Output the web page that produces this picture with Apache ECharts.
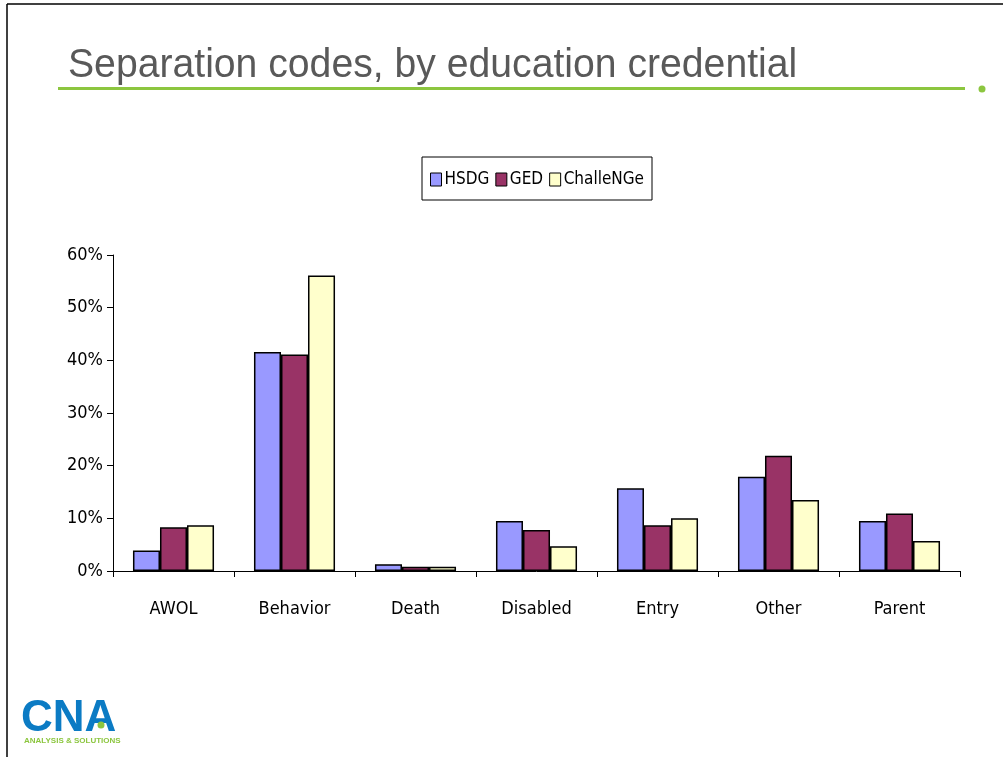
<!DOCTYPE html>
<html>
<head>
<meta charset="utf-8">
<script src="https://cdn.jsdelivr.net/npm/echarts@6/dist/echarts.min.js"></script>
<style>
  html, body { margin: 0; padding: 0; background: #fff; }
  #chart { width: 1003px; height: 757px; }
</style>
</head>
<body>
<div id="chart"></div>
<script>
const categories = ["AWOL", "Behavior", "Death", "Disabled", "Entry", "Other", "Parent"];
const hsdg = [3.9, 41.6, 1.3, 9.5, 15.7, 17.9, 9.5];
const ged = [8.3, 41.1, 0.8, 7.8, 8.7, 21.9, 10.9];
const challenge = [8.7, 56.1, 0.8, 4.7, 10.0, 13.5, 5.7];
const yTicks = [0, 10, 20, 30, 40, 50, 60];

const narrow = "'DejaVu Sans Condensed', 'Liberation Sans', sans-serif";

const chart = echarts.init(document.getElementById("chart"));

const barStyle = (color) => ({
  color: color,
  borderColor: "#000",
  borderWidth: 1.5,
});

chart.setOption({
  animation: false,
  backgroundColor: "#fff",
  legend: {
    data: ["HSDG", "GED", "ChalleNGe"],
    left: 422,
    top: 157,
    width: 227,
    height: 47,
    padding: [14, 8, 12, 8],
    borderColor: "#000",
    borderWidth: 1,
    itemWidth: 11,
    itemHeight: 13,
    itemGap: 6,
    icon: "rect",
    textStyle: {
      fontFamily: narrow,
      fontSize: 17,
      color: "#000",
      padding: [0, 0, 0, -2],
    },
    itemStyle: { borderColor: "#000", borderWidth: 1 },
  },
  grid: {
    left: 113,
    right: 43,
    top: 255,
    bottom: 186,
  },
  xAxis: {
    type: "category",
    data: categories,
    axisLine: { lineStyle: { color: "#000", width: 1 } },
    axisTick: { show: true, length: 6, lineStyle: { color: "#000" } },
    axisLabel: {
      margin: 29,
      fontFamily: narrow,
      fontSize: 18,
      color: "#000",
    },
  },
  yAxis: {
    type: "value",
    min: yTicks[0],
    max: yTicks[yTicks.length - 1],
    interval: 10,
    splitLine: { show: false },
    axisLine: { show: true, lineStyle: { color: "#000", width: 1 } },
    axisTick: { show: true, length: 6, lineStyle: { color: "#000" } },
    axisLabel: {
      margin: 10,
      fontFamily: narrow,
      fontSize: 18,
      color: "#000",
      formatter: "{value}%",
    },
  },
  series: [
    {
      name: "HSDG",
      type: "bar",
      data: hsdg,
      barGap: "0%",
      barCategoryGap: "33%",
      itemStyle: barStyle("#9999ff"),
    },
    {
      name: "GED",
      type: "bar",
      data: ged,
      barGap: "0%",
      barCategoryGap: "33%",
      itemStyle: barStyle("#993366"),
    },
    {
      name: "ChalleNGe",
      type: "bar",
      data: challenge,
      barGap: "0%",
      barCategoryGap: "33%",
      itemStyle: barStyle("#ffffcc"),
    },
  ],
  graphic: [
    // slide frame (top and left edges)
    { type: "line", shape: { x1: 7, y1: 4, x2: 1003, y2: 4 }, style: { stroke: "#000", lineWidth: 1.5 } },
    { type: "line", shape: { x1: 7, y1: 4, x2: 7, y2: 757 }, style: { stroke: "#000", lineWidth: 1.5 } },
    // title
    {
      type: "text",
      x: 68,
      y: 45,
      scaleX: 0.955,
      style: {
        text: "Separation codes, by education credential",
        fontFamily: "Liberation Sans",
        fontSize: 41,
        fill: "#595959",
      },
    },
    // green rule under the title
    { type: "rect", shape: { x: 58, y: 87, width: 907, height: 3 }, style: { fill: "#8cc63f" } },
    { type: "circle", shape: { cx: 982, cy: 89, r: 3.5 }, style: { fill: "#8cc63f" } },
    // logo
    {
      type: "text",
      left: 21,
      top: 697,
      style: {
        text: "CNA",
        fontFamily: "Liberation Sans",
        fontSize: 44,
        fontWeight: "bold",
        fill: "#0b7bc4",
      },
    },
    {
      type: "text",
      left: 24,
      top: 737,
      style: {
        text: "ANALYSIS & SOLUTIONS",
        fontFamily: "Liberation Sans",
        fontSize: 8,
        fontWeight: "bold",
        fill: "#8cc63f",
      },
    },
    { type: "circle", shape: { cx: 101, cy: 725, r: 3.5 }, style: { fill: "#8cc63f" } },
  ],
});
</script>
</body>
</html>
